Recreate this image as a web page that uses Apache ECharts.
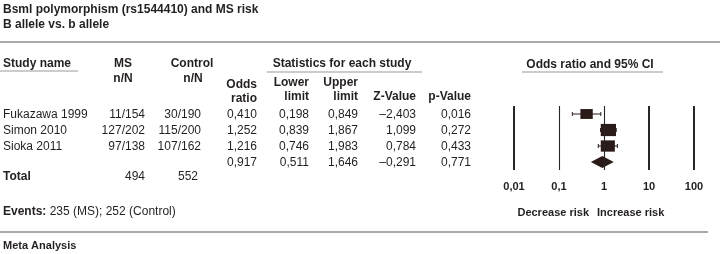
<!DOCTYPE html>
<html>
<head>
<meta charset="utf-8">
<script src="https://cdn.jsdelivr.net/npm/echarts@6/dist/echarts.min.js"></script>
<style>
  html, body { margin: 0; padding: 0; background: #fff; }
  #main { width: 720px; height: 254px; }
</style>
</head>
<body>
<div id="main"></div>
<script>
  // data
  const studies = ['Fukazawa 1999', 'Simon 2010', 'Sioka 2011'];
  const msCounts = ['11/154', '127/202', '97/138'];
  const controlCounts = ['30/190', '115/200', '107/162'];
  // last entry = pooled (total) row
  const oddsRatio = [0.410, 1.252, 1.216, 0.917];
  const lowerLimit = [0.198, 0.839, 0.746, 0.511];
  const upperLimit = [0.849, 1.867, 1.983, 1.646];
  const zValue = [-2.403, 1.099, 0.784, -0.291];
  const pValue = [0.016, 0.272, 0.433, 0.771];
  const totals = ['494', '552'];
  const events = '235 (MS); 252 (Control)';
  const axisTicks = [0.01, 0.1, 1, 10, 100];
  const tickLabels = ['0,01', '0,1', '1', '10', '100'];

  const FONT = '"Liberation Sans", Arial, Helvetica, sans-serif';
  const INK = '#231f20';
  const MARK = '#2a1a18';

  function fmt(v) {
    // comma decimals, en dash minus like the source
    let s = Math.abs(v).toFixed(3).replace('.', ',');
    return (v < 0 ? '\u2013' : '') + s;
  }

  let myChart = echarts.init(document.getElementById('main'));

  let rowIdx = oddsRatio.map((v, i) => i);
  // inverse variance weight -> square size
  let seriesData = rowIdx.map(i => {
    let se = (Math.log(upperLimit[i]) - Math.log(lowerLimit[i])) / 3.92;
    return [i, oddsRatio[i], lowerLimit[i], upperLimit[i], 1 / (se * se)];
  });

  let option = {
    animation: false,
    grid: { left: 514, right: 26, top: 106, height: 64 },
    xAxis: {
      type: 'log',
      logBase: 10,
      min: 0.01,
      max: 100,
      axisLine: { show: false },
      axisTick: { show: false },
      splitLine: { show: false },
      axisLabel: {
        margin: 11,
        fontFamily: FONT,
        fontWeight: 'bold',
        fontSize: 11,
        color: INK,
        formatter: function (v) {
          let k = axisTicks.findIndex(t => Math.abs(Math.log10(t) - Math.log10(v)) < 0.01);
          return k >= 0 ? tickLabels[k] : '';
        }
      }
    },
    yAxis: {
      type: 'category',
      inverse: true,
      data: rowIdx.map(String),
      show: false
    },
    series: [{
      type: 'custom',
      encode: { x: [1, 2, 3], y: 0 },
      data: seriesData,
      z: 3,
      // reference lines at each decade (thin ones at 0,1 and 1)
      markLine: {
        silent: true,
        symbol: 'none',
        label: { show: false },
        data: axisTicks.map(t => ({
          xAxis: t,
          lineStyle: { type: 'solid', color: '#262626', width: (t === 0.1 || t === 1) ? 1.1 : 2 }
        }))
      },
      renderItem: function (params, api) {
        let i = api.value(0);
        let c = api.coord([api.value(1), i]);
        let lo = api.coord([api.value(2), i]);
        let hi = api.coord([api.value(3), i]);
        if (params.dataIndex === oddsRatio.length - 1) {
          // pooled estimate diamond
          return {
            type: 'polygon',
            shape: { points: [[lo[0], c[1]], [c[0], c[1] - 6], [hi[0], c[1]], [c[0], c[1] + 6]] },
            style: { fill: MARK }
          };
        }
        let side = 8 + 1.2 * Math.sqrt(api.value(4));
        let w = side * 1.1, h = side * 0.88;
        return {
          type: 'group',
          children: [
            { type: 'line', shape: { x1: lo[0], y1: c[1], x2: hi[0], y2: c[1] }, style: { stroke: MARK, lineWidth: 1 } },
            { type: 'line', shape: { x1: lo[0], y1: c[1] - 2, x2: lo[0], y2: c[1] + 2 }, style: { stroke: MARK, lineWidth: 1 } },
            { type: 'line', shape: { x1: hi[0], y1: c[1] - 2, x2: hi[0], y2: c[1] + 2 }, style: { stroke: MARK, lineWidth: 1 } },
            { type: 'rect', shape: { x: c[0] - w / 2, y: c[1] - h / 2, width: w, height: h }, style: { fill: MARK } }
          ]
        };
      }
    }]
  };

  myChart.setOption(option);

  // table part, rows lined up with the plot rows
  let rowY = rowIdx.map(i => myChart.convertToPixel({ yAxisIndex: 0 }, i));
  let totalY = rowY[rowY.length - 1] + 15;

  function txt(s, x, y, align, bold, size) {
    return {
      type: 'text', x: x, y: y,
      style: {
        text: s, textAlign: align || 'left', textVerticalAlign: 'middle',
        font: (bold ? 'bold ' : '') + (size || 12) + 'px ' + FONT, fill: INK
      }
    };
  }
  function hline(x1, x2, y, color, lw) {
    return { type: 'line', shape: { x1: x1, y1: y, x2: x2, y2: y }, style: { stroke: color || '#9a9a9a', lineWidth: lw || 1.2 } };
  }

  let g = [];
  g.push(txt('Bsml polymorphism (rs1544410) and MS risk', 3, 10, 'left', true, 12));
  g.push(txt('B allele vs. b allele', 3, 25, 'left', true, 12));
  g.push(hline(0, 720, 42, '#8c8c8c', 1.6));

  g.push(txt('Study name', 3, 64, 'left', true));
  g.push(hline(0, 78, 71));
  g.push(txt('MS', 123, 64, 'center', true));
  g.push(txt('n/N', 123, 79, 'center', true));
  g.push(txt('Control', 192, 64, 'center', true));
  g.push(txt('n/N', 193, 79, 'center', true));
  g.push(txt('Statistics for each study', 342, 64, 'center', true));
  g.push(hline(267, 422, 72));
  g.push(txt('Odds ratio and 95% CI', 590, 65, 'center', true));
  g.push(hline(522, 663, 72));
  g.push(txt('Odds', 257, 85, 'right', true));
  g.push(txt('ratio', 257, 99, 'right', true));
  g.push(txt('Lower', 309, 83, 'right', true));
  g.push(txt('limit', 309, 97, 'right', true));
  g.push(txt('Upper', 358, 83, 'right', true));
  g.push(txt('limit', 358, 97, 'right', true));
  g.push(txt('Z-Value', 416, 97, 'right', true));
  g.push(txt('p-Value', 471, 97, 'right', true));

  rowIdx.forEach(i => {
    let y = rowY[i] + 1;
    if (i < studies.length) {
      g.push(txt(studies[i], 3, y, 'left'));
      g.push(txt(msCounts[i], 145, y, 'right'));
      g.push(txt(controlCounts[i], 201, y, 'right'));
    }
    g.push(txt(fmt(oddsRatio[i]), 257, y, 'right'));
    g.push(txt(fmt(lowerLimit[i]), 309, y, 'right'));
    g.push(txt(fmt(upperLimit[i]), 358, y, 'right'));
    g.push(txt(fmt(zValue[i]), 416, y, 'right'));
    g.push(txt(fmt(pValue[i]), 471, y, 'right'));
  });

  g.push(txt('Total', 3, totalY, 'left', true));
  g.push(txt(totals[0], 145, totalY, 'right'));
  g.push(txt(totals[1], 198, totalY, 'right'));

  g.push({
    type: 'text', x: 3, y: 212,
    style: {
      text: '{b|Events:} ' + events, textVerticalAlign: 'middle',
      font: '12px ' + FONT, fill: INK,
      rich: { b: { fontWeight: 'bold', fontSize: 12, fontFamily: FONT, fill: INK } }
    }
  });
  g.push(txt('Decrease risk', 589, 213, 'right', true, 11));
  g.push(txt('Increase risk', 597, 213, 'left', true, 11));
  g.push(hline(0, 708, 232, '#8c8c8c', 1.6));
  g.push(txt('Meta Analysis', 3, 246, 'left', true, 11));

  myChart.setOption({ graphic: g });
</script>
</body>
</html>
